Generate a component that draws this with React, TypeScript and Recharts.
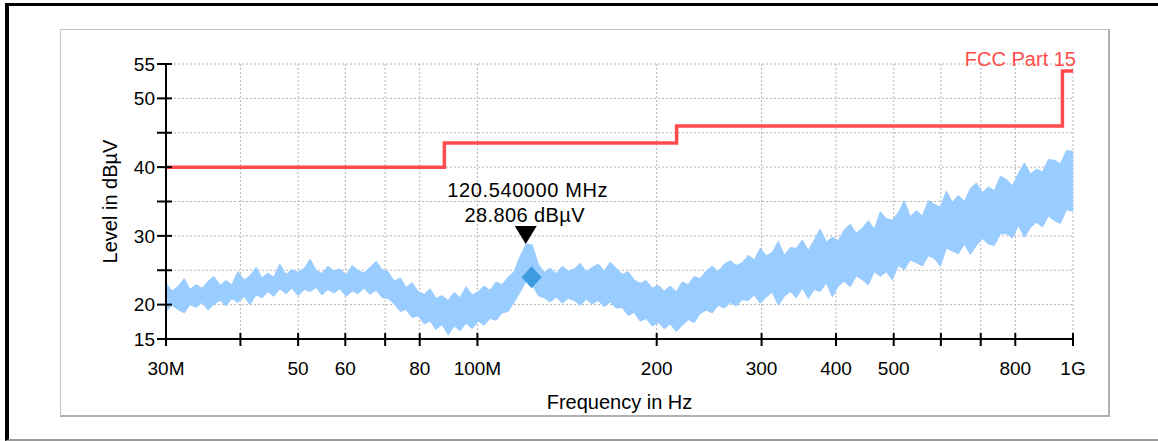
import React from 'react';
import { ComposedChart, Area, Line, Scatter, XAxis, YAxis, CartesianGrid } from 'recharts';

// ---------- data ----------
const FREQS = [
  30, 30.7, 31.4, 32.2, 32.9, 33.7, 34.5, 35.3, 36.1, 37.0,
  37.8, 38.7, 39.6, 40.6, 41.5, 42.5, 43.5, 44.5, 45.5, 46.6,
  47.7, 48.8, 50.0, 51.2, 52.4, 53.6, 54.8, 56.1, 57.4, 58.8,
  60.2, 61.6, 63.0, 64.5, 66.0, 67.6, 69.2, 70.8, 72.5, 74.2,
  75.9, 77.7, 79.5, 81.4, 83.3, 85.2, 87.2, 89.3, 91.4, 93.5,
  95.7, 98.0, 100.3, 102.6, 105.0, 107.5, 110.0, 112.6, 115.2, 117.9,
  120.7, 123.6, 126.5, 129.4, 132.5, 135.6, 138.8, 142.0, 145.4, 148.8,
  152.3, 155.8, 159.5, 163.2, 167.1, 171.0, 175.0, 179.1, 183.3, 187.6,
  192.0, 196.5, 201.2, 205.9, 210.7, 215.7, 220.7, 225.9, 231.2, 236.6,
  242.2, 247.9, 253.7, 259.7, 265.8, 272.0, 278.4, 284.9, 291.6, 298.5,
  305.5, 312.6, 320.0, 327.5, 335.2, 343.1, 351.1, 359.4, 367.8, 376.4,
  385.3, 394.3, 403.6, 413.1, 422.8, 432.7, 442.8, 453.2, 463.9, 474.8,
  485.9, 497.3, 509.0, 521.0, 533.2, 545.7, 558.5, 571.7, 585.1, 598.8,
  612.9, 627.3, 642.0, 657.1, 672.5, 688.3, 704.5, 721.0, 737.9, 755.3,
  773.0, 791.2, 809.7, 828.7, 848.2, 868.1, 888.5, 909.4, 930.7, 952.6,
  975.0, 1000,
];

const LEVEL_HI = [
  23.1, 22.0, 22.6, 23.8, 22.2, 22.9, 22.4, 23.4, 24.1, 22.8,
  23.5, 22.9, 24.8, 23.6, 24.2, 25.4, 23.9, 24.6, 24.0, 25.9,
  24.4, 25.1, 24.7, 25.3, 26.6, 25.0, 24.5, 25.6, 24.9, 25.2,
  24.3, 25.7, 25.0, 24.6, 25.4, 26.3, 25.1, 24.8, 23.4, 23.9,
  22.5, 23.2, 21.9, 21.5, 22.3, 20.9, 21.3, 20.6, 21.8, 21.0,
  22.6, 21.4, 21.9, 22.7, 22.1, 23.3, 22.9, 24.0, 24.8, 27.0,
  28.8, 28.7, 25.9, 24.7, 25.3, 24.5, 25.6, 24.9, 25.2, 26.0,
  24.8, 25.4, 25.9, 24.9, 26.2, 25.3, 24.4, 24.8, 23.6, 23.1,
  23.5, 22.4, 22.8, 22.0, 22.7, 21.9, 23.3, 22.9, 24.1, 23.8,
  24.9, 25.6, 24.8, 25.9, 26.4, 25.7, 26.1, 27.2, 26.5, 28.2,
  27.1, 27.6, 29.2, 27.2, 28.3, 28.2, 29.4, 27.9, 29.4, 31.0,
  29.1, 29.8, 29.3, 30.9, 31.7, 30.4, 31.1, 32.2, 31.0, 33.5,
  32.5, 32.3, 33.4, 35.1, 32.8, 33.7, 32.9, 35.1, 34.6, 34.2,
  36.5, 34.9, 35.9, 35.0, 36.9, 37.7, 36.3, 37.1, 36.6, 38.7,
  38.2, 37.3, 39.1, 40.6, 39.0, 39.7, 39.3, 41.1, 41.0, 40.5,
  42.4, 42.3,
];

const LEVEL_LO = [
  19.0, 19.9, 19.3, 18.8, 20.0, 19.6, 20.3, 19.2, 20.1, 20.6,
  19.8, 20.9, 20.3, 21.2, 20.0, 21.4, 21.0, 21.9, 21.2, 22.3,
  21.6, 22.4, 21.3, 22.2, 21.9, 22.5, 21.4, 22.2, 21.7, 22.3,
  21.2, 22.0, 21.6, 22.4, 21.5, 22.1, 21.0, 20.9, 20.1, 19.0,
  19.3, 18.1, 18.4, 17.2, 17.6, 16.4, 17.1, 15.6, 16.9, 16.2,
  17.3, 16.5, 17.6, 17.0, 18.0, 17.7, 18.8, 19.0, 20.3, 21.8,
  23.4, 22.9, 21.3, 21.0, 20.4, 21.1, 20.2, 20.9, 20.6, 19.9,
  20.8, 20.1, 20.6, 19.7, 20.4, 19.5, 19.6, 18.4, 18.9, 17.6,
  18.0, 16.9, 17.4, 16.5, 17.2, 16.1, 17.0, 17.8, 17.4, 18.7,
  19.2, 18.8, 19.9, 19.5, 20.3, 19.8, 20.7, 20.6, 21.4, 20.2,
  21.1, 21.8, 19.9, 21.2, 21.9, 21.0, 22.4, 20.9, 22.2, 21.9,
  23.2, 21.1, 22.7, 23.4, 22.6, 24.2, 23.6, 22.9, 24.8, 24.1,
  24.8, 23.6, 25.7, 25.1, 26.5, 26.1, 25.6, 27.1, 26.7, 25.6,
  28.2, 27.8, 27.4, 28.8, 27.3, 28.6, 29.6, 28.8, 28.6, 30.3,
  30.3, 29.7, 31.5, 29.8, 31.2, 32.0, 31.3, 32.9, 32.2, 31.8,
  33.8, 33.6,
];

const LIMIT_FREQS = [30, 88, 216, 960, 1000];
const LIMIT_LEVELS = [40, 43.5, 46, 54, 54];
const LIMIT_NAME = 'FCC Part 15';

const PEAK_FREQ = [120.54];
const PEAK_LEVEL = [28.806];
const DIAMOND_FREQ = [123.3];
const DIAMOND_LEVEL = [24.0];

const X_TICKS = [30, 40, 50, 60, 70, 80, 100, 200, 300, 400, 500, 600, 700, 800, 1000];
const X_TICK_LABELS: Record<number, string> = {
  30: '30M', 50: '50', 60: '60', 80: '80', 100: '100M',
  200: '200', 300: '300', 400: '400', 500: '500', 800: '800', 1000: '1G',
};
const Y_TICKS = [15, 20, 25, 30, 35, 40, 45, 50, 55];
const Y_TICK_LABELS = [15, 20, 30, 40, 50, 55];

// ---------- derived tables ----------
const traceData = FREQS.map((f, i) => ({ f, band: [LEVEL_LO[i], LEVEL_HI[i]] }));
const limitData = LIMIT_FREQS.map((f, i) => ({ f, v: LIMIT_LEVELS[i] }));
const peakData = PEAK_FREQ.map((f, i) => ({ f, v: PEAK_LEVEL[i] }));
const diamondData = DIAMOND_FREQ.map((f, i) => ({ f, v: DIAMOND_LEVEL[i] }));

const FONT = '"Liberation Sans", Arial, sans-serif';

const XTick = (props: any) => {
  const { x, y, payload } = props;
  const lbl = X_TICK_LABELS[payload.value];
  return (
    <g>
      <line x1={x} x2={x} y1={y - 6} y2={y + 7} stroke="#000" strokeWidth={2} />
      {lbl && (
        <text x={x} y={y + 36} textAnchor="middle" fontSize={19} fontFamily={FONT} fill="#000">
          {lbl}
        </text>
      )}
    </g>
  );
};

const YTick = (props: any) => {
  const { x, y, payload } = props;
  const show = Y_TICK_LABELS.includes(payload.value);
  return (
    <g>
      <line x1={x - 9} x2={x + 6} y1={y} y2={y} stroke="#000" strokeWidth={2} />
      {show && (
        <text x={x - 11} y={y} dy="0.36em" textAnchor="end" fontSize={19} fontFamily={FONT} fill="#000">
          {payload.value}
        </text>
      )}
    </g>
  );
};

const PeakShape = (props: any) => {
  const { cx, cy, payload } = props;
  return (
    <g>
      <path d={`M${cx - 11},${cy - 18} L${cx + 11},${cy - 18} L${cx},${cy} Z`} fill="#000" />
      <text x={cx + 2} y={cy - 47} textAnchor="middle" fontSize={20} letterSpacing={0.6} fontFamily={FONT} fill="#000">
        {`${payload.f.toFixed(6)} MHz`}
      </text>
      <text x={cx - 1} y={cy - 22} textAnchor="middle" fontSize={20} letterSpacing={0.4} fontFamily={FONT} fill="#000">
        {`${payload.v.toFixed(3)} dBµV`}
      </text>
    </g>
  );
};

const DiamondShape = (props: any) => {
  const { cx, cy } = props;
  return <path d={`M${cx},${cy - 11} L${cx + 10},${cy} L${cx},${cy + 11} L${cx - 10},${cy} Z`} fill="#3d9be0" />;
};

export default function App() {
  return (
    <div style={{ position: 'absolute', left: 0, top: 0, width: 1158, height: 441, overflow: 'hidden', background: '#fff', fontFamily: FONT }}>
      <div
        style={{
          position: 'absolute', left: 5, top: 3, width: 1300, height: 438, boxSizing: 'border-box',
          borderTop: '3px solid #000', borderLeft: '4px solid #000', borderBottom: '2px solid #9a9a9a',
        }}
      />
      <div
        style={{
          position: 'absolute', left: 60, top: 29, width: 1050, height: 388, boxSizing: 'border-box',
          borderTop: '1px solid #c4c4c4', borderLeft: '1px solid #c4c4c4',
          borderRight: '2px solid #b0b0b0', borderBottom: '2px solid #b0b0b0',
        }}
      />
      <div style={{ position: 'absolute', left: 0, top: 0 }}>
        <ComposedChart width={1158} height={441} margin={{ top: 64, right: 85, bottom: 30, left: 54 }}>
          <CartesianGrid stroke="#b4b4b4" strokeDasharray="2 2" strokeWidth={1} />
          <XAxis
            dataKey="f"
            type="number"
            scale="log"
            domain={[30, 1000]}
            allowDataOverflow
            ticks={X_TICKS}
            interval={0}
            tickSize={0}
            tickMargin={0}
            tickLine={false}
            height={72}
            axisLine={{ stroke: '#000', strokeWidth: 2 }}
            tick={XTick}
            label={{ value: 'Frequency in Hz', position: 'insideBottom', offset: 2, fontSize: 20, fill: '#000', fontFamily: FONT }}
          />
          <YAxis
            type="number"
            domain={[15, 55]}
            allowDataOverflow
            ticks={Y_TICKS}
            interval={0}
            tickSize={0}
            tickMargin={0}
            tickLine={false}
            width={112}
            axisLine={{ stroke: '#000', strokeWidth: 2 }}
            tick={YTick}
            label={{ value: 'Level in dBµV', position: 'center', angle: -90, fontSize: 20, fill: '#000', fontFamily: FONT }}
          />
          <Area
            data={traceData}
            dataKey="band"
            type="linear"
            stroke="#99ccff"
            strokeWidth={1}
            fill="#99ccff"
            fillOpacity={1}
            isAnimationActive={false}
            dot={false}
            activeDot={false}
          />
          <Line
            data={limitData}
            dataKey="v"
            type="stepAfter"
            stroke="#ff4b4b"
            strokeWidth={3.5}
            dot={false}
            activeDot={false}
            isAnimationActive={false}
          />
          <Scatter data={diamondData} dataKey="v" shape={DiamondShape} isAnimationActive={false} />
          <Scatter data={peakData} dataKey="v" shape={PeakShape} isAnimationActive={false} />
        </ComposedChart>
      </div>
      <div
        style={{
          position: 'absolute', right: 82, top: 49, fontSize: 20, lineHeight: '20px',
          color: '#ff4b4b', fontFamily: FONT, whiteSpace: 'nowrap',
        }}
      >
        {LIMIT_NAME}
      </div>
    </div>
  );
}
